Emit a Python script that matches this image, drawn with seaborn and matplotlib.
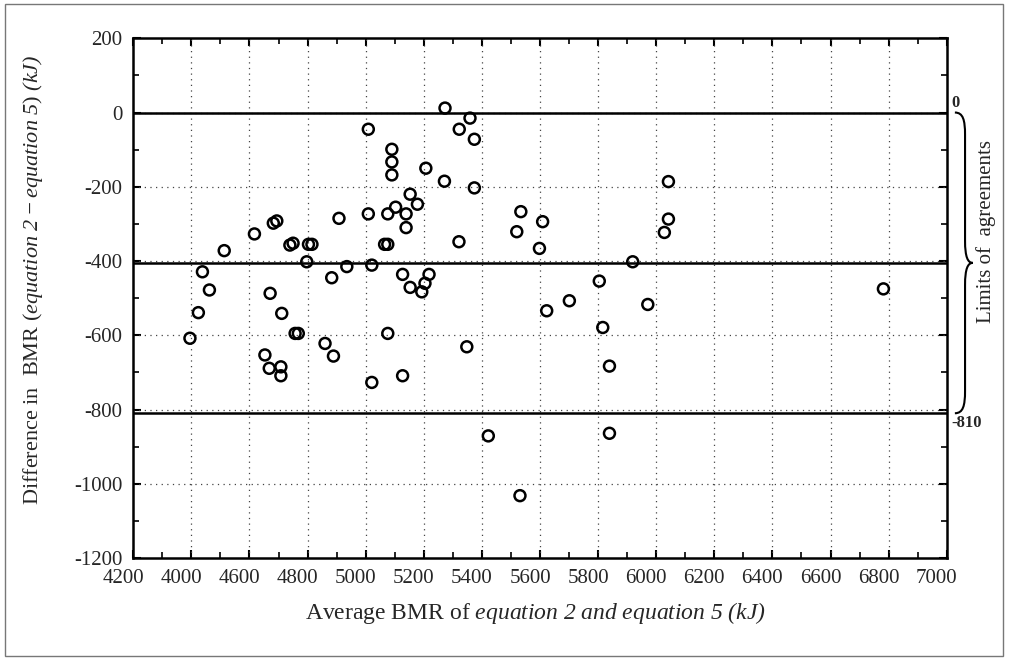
import numpy as np
import pandas as pd
import matplotlib
matplotlib.use("Agg")
import matplotlib.pyplot as plt
import matplotlib.transforms as mtransforms
from matplotlib.path import Path
from matplotlib.patches import PathPatch, Rectangle
from matplotlib.ticker import MultipleLocator
import seaborn as sns

# ---------------- data ----------------
avg_bmr = [5009, 5090, 5090, 5090, 5207, 5153, 5178, 5103, 5076, 5009,
           5139, 5139, 4908, 4682, 4694, 4617, 4513, 4739, 4750, 4803,
           4815, 5065, 5076, 4797, 4438, 4462, 4424, 4883, 4935, 5021,
           4671, 4711, 4757, 4768, 4395, 5076, 5127, 5153, 5193, 5204,
           4860, 4889, 4653, 4668, 4708, 4708, 5021, 5127, 5273, 5359,
           5322, 5374, 5271, 5374, 5321, 5534, 5520, 5609, 5598, 6042,
           6042, 6028, 5919, 5218, 5804, 5701, 5623, 5971, 5816, 5348,
           5839, 5422, 5839, 5531, 6782]
diff_bmr = [-45, -99, -133, -168, -150, -220, -247, -255, -273, -273,
            -273, -310, -285, -298, -292, -327, -372, -357, -352, -355,
            -355, -355, -355, -402, -429, -478, -539, -445, -415, -411,
            -487, -541, -595, -595, -608, -595, -436, -471, -483, -460,
            -622, -656, -653, -689, -685, -709, -727, -709, 12, -15,
            -45, -72, -185, -203, -348, -267, -321, -294, -366, -186,
            -287, -323, -402, -436, -454, -507, -534, -517, -579, -631,
            -683, -871, -864, -1032, -475]

upper_limit = 0
mean_diff = -405
lower_limit = -810

xticks = list(range(4200, 7001, 200))
xtick_labels = ["4200", "4000", "4600", "4800", "5000", "5200", "5400", "5600",
                "5800", "6000", "6200", "6400", "6600", "6800", "7000"]
yticks = list(range(-1200, 201, 200))
ytick_labels = ["-1200", "-1000", "-800", "-600", "-400", "-200", "0", "200"]

df = pd.DataFrame({"avg": avg_bmr, "diff": diff_bmr})

# ---------------- style ----------------
sns.set_style("white")
plt.rcParams["font.family"] = ["Liberation Serif", "DejaVu Serif"]
# math "rm" is mapped to the italic face, so $\mathrm{...}$ gives fully italic text
plt.rcParams["mathtext.fontset"] = "custom"
plt.rcParams["mathtext.rm"] = "Liberation Serif:italic"
plt.rcParams["mathtext.it"] = "Liberation Serif:italic"
plt.rcParams["axes.unicode_minus"] = False

fig = plt.figure(figsize=(10.09, 6.60), dpi=100)
ax = fig.add_axes([0.1321, 0.1545, 0.8062, 0.7875])

# outer frame around the figure
fig.patches.append(Rectangle((5 / 1009, 4 / 660), 998 / 1009, 652 / 660,
                             transform=fig.transFigure, fill=False,
                             edgecolor="#777777", linewidth=1.0))

# dotted grid
for xv in xticks[1:-1]:
    ax.axvline(xv, color="#444444", linestyle=(0, (1, 3.5)), linewidth=0.9, zorder=1)
for yv in yticks[1:-1]:
    ax.axhline(yv, color="#444444", linestyle=(0, (1, 3.5)), linewidth=0.9, zorder=1)

# limit / mean lines
for yv in (upper_limit, mean_diff, lower_limit):
    ax.axhline(yv, color="black", linewidth=1.8, zorder=2)

sns.scatterplot(data=df, x="avg", y="diff", ax=ax, marker="o", s=62,
                facecolor="none", edgecolor="black", linewidth=1.8, zorder=3)

ax.set_xlim(4200, 7000)
ax.set_ylim(-1200, 200)
ax.set_xticks(xticks)
ax.set_xticklabels(xtick_labels)
ax.set_yticks(yticks)
ax.set_yticklabels(ytick_labels)
ax.xaxis.set_minor_locator(MultipleLocator(100))
ax.yaxis.set_minor_locator(MultipleLocator(100))
ax.tick_params(which="both", direction="in", top=True, right=True,
               bottom=True, left=True, color="black")
ax.tick_params(which="major", length=6, width=1.5, labelsize=15, pad=8)
ax.tick_params(which="minor", length=4, width=1.2)
for sp in ax.spines.values():
    sp.set_color("black")
    sp.set_linewidth(1.8)

off = mtransforms.ScaledTranslation(-10 / 100, 0, fig.dpi_scale_trans)
for lab in ax.get_xticklabels():
    lab.set_transform(lab.get_transform() + off)

ax.set_xlabel(r"Average BMR of $\mathrm{equation\ 2\ and\ equation\ 5\ (kJ)}$",
              fontsize=17)
ax.xaxis.label.set_va("center")
ax.xaxis.set_label_coords(0.494, -0.106)
ax.set_ylabel(r"Difference in  BMR ($\mathrm{equation\ 2 - equation\ 5}$) $\mathrm{(kJ)}$",
              fontsize=16)
ax.yaxis.label.set_va("center")
ax.yaxis.set_label_coords(-0.123, 0.535)

# right-side annotation: brace + labels
trans = mtransforms.blended_transform_factory(ax.transAxes, ax.transData)
xe, xs, xt = 1.010, 1.0225, 1.032
verts = [(xe, upper_limit), (1.020, upper_limit), (xs, -20), (xs, -60),
         (xs, -345),
         (xs, -390), (1.026, mean_diff), (xt, mean_diff),
         (1.026, mean_diff), (xs, -420), (xs, -465),
         (xs, -750),
         (xs, -790), (1.020, lower_limit), (xe, lower_limit)]
codes = [Path.MOVETO, Path.CURVE4, Path.CURVE4, Path.CURVE4,
         Path.LINETO,
         Path.CURVE4, Path.CURVE4, Path.CURVE4,
         Path.CURVE4, Path.CURVE4, Path.CURVE4,
         Path.LINETO,
         Path.CURVE4, Path.CURVE4, Path.CURVE4]
ax.add_patch(PathPatch(Path(verts, codes), transform=trans, fill=False,
                       edgecolor="black", linewidth=1.5, clip_on=False))
ax.text(1.006, 25, "0", transform=trans, fontsize=12, fontweight="bold",
        ha="left", va="center", clip_on=False)
ax.text(1.006, -835, "-810", transform=trans, fontsize=12, fontweight="bold",
        ha="left", va="center", clip_on=False)
ax.text(1.048, -320, "Limits of  agreements", transform=trans, fontsize=15,
        rotation=90, ha="center", va="center", clip_on=False)

fig.savefig("out.png", dpi=100)
